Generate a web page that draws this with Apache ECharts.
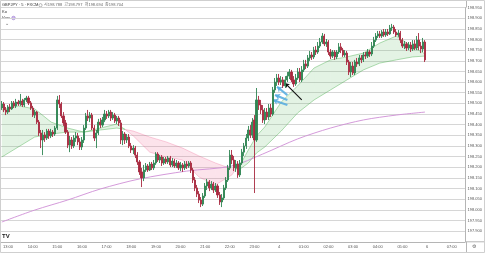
<!DOCTYPE html>
<html><head><meta charset="utf-8">
<script src="https://cdn.jsdelivr.net/npm/echarts@6/dist/echarts.min.js"></script>
<style>html,body{margin:0;padding:0;background:#fff}#c{width:485px;height:253px}</style>
</head><body><div id="c"></div>
<script>
// ---- data ----
const startTime = '12:45';
const slotCount = 226;
const tickTimes = ['13:00','14:00','15:00','16:00','17:00','18:00','19:00','20:00','21:00','22:00','23:00','00:00','01:00','02:00','03:00','04:00','05:00','06:00','07:00'];
const tickLabels = ['13:00','14:00','15:00','16:00','17:00','18:00','19:00','20:00','21:00','22:00','23:00','4','01:00','02:00','03:00','04:00','05:00','6','07:00'];
const priceMin = 197.85, priceMax = 198.95, priceStep = 0.05;
// [open, close, low, high]
const candles = [
[198.478,198.497,198.469,198.511],[198.497,198.469,198.459,198.506],[198.469,198.459,198.445,198.483],[198.459,198.483,198.450,198.492],
[198.483,198.474,198.459,198.497],[198.474,198.502,198.469,198.511],[198.502,198.488,198.478,198.511],[198.488,198.506,198.478,198.521],
[198.506,198.497,198.488,198.516],[198.497,198.511,198.488,198.544],[198.511,198.492,198.483,198.521],[198.492,198.516,198.483,198.525],
[198.516,198.525,198.506,198.535],[198.525,198.502,198.492,198.535],[198.502,198.478,198.469,198.511],[198.478,198.445,198.436,198.488],
[198.445,198.459,198.431,198.469],[198.459,198.412,198.403,198.464],[198.412,198.361,198.347,198.422],[198.361,198.328,198.290,198.375],
[198.328,198.351,198.257,198.375],[198.351,198.337,198.319,198.365],[198.337,198.370,198.328,198.380],[198.370,198.347,198.333,198.380],
[198.347,198.365,198.337,198.380],[198.365,198.356,198.342,198.375],[198.356,198.384,198.347,198.394],[198.384,198.516,198.375,198.535],
[198.516,198.497,198.478,198.539],[198.497,198.441,198.431,198.506],[198.441,198.408,198.394,198.459],[198.408,198.365,198.356,198.422],
[198.365,198.304,198.290,198.375],[198.304,198.328,198.271,198.347],[198.328,198.300,198.286,198.342],[198.300,198.337,198.290,198.351],
[198.337,198.347,198.319,198.365],[198.347,198.319,198.304,198.361],[198.319,198.295,198.281,198.337],[198.295,198.328,198.281,198.342],
[198.328,198.384,198.314,198.398],[198.384,198.441,198.375,198.455],[198.441,198.431,198.417,198.469],[198.431,198.445,198.412,198.459],
[198.445,198.384,198.375,198.455],[198.384,198.337,198.323,198.398],[198.337,198.361,198.290,198.375],[198.361,198.412,198.351,198.427],
[198.412,198.398,198.384,198.431],[198.398,198.422,198.389,198.436],[198.422,198.450,198.412,198.469],[198.450,198.441,198.427,198.464],
[198.441,198.459,198.431,198.469],[198.459,198.431,198.417,198.469],[198.431,198.445,198.422,198.459],[198.445,198.417,198.408,198.455],
[198.417,198.431,198.403,198.441],[198.431,198.408,198.394,198.441],[198.408,198.328,198.309,198.422],[198.328,198.356,198.304,198.370],
[198.356,198.328,198.309,198.365],[198.328,198.342,198.314,198.356],[198.342,198.300,198.290,198.356],[198.300,198.281,198.267,198.314],
[198.281,198.290,198.262,198.304],[198.290,198.257,198.243,198.300],[198.257,198.225,198.211,198.271],[198.225,198.178,198.164,198.234],
[198.178,198.150,198.107,198.197],[198.150,198.187,198.135,198.211],[198.187,198.206,198.178,198.220],[198.206,198.187,198.178,198.215],
[198.187,198.215,198.182,198.225],[198.215,198.197,198.187,198.225],[198.197,198.220,198.187,198.234],[198.220,198.262,198.211,198.271],
[198.262,198.234,198.225,198.271],[198.234,198.248,198.220,198.257],[198.248,198.220,198.206,198.257],[198.220,198.239,198.211,198.248],
[198.239,198.225,198.215,198.248],[198.225,198.243,198.215,198.253],[198.243,198.211,198.201,198.253],[198.211,198.229,198.201,198.243],
[198.229,198.206,198.197,198.239],[198.206,198.220,198.197,198.234],[198.220,198.197,198.187,198.229],[198.197,198.211,198.182,198.225],
[198.211,198.197,198.178,198.220],[198.197,198.215,198.187,198.229],[198.215,198.206,198.192,198.229],[198.206,198.220,198.197,198.229],
[198.220,198.187,198.173,198.229],[198.187,198.140,198.126,198.197],[198.140,198.103,198.088,198.154],[198.103,198.074,198.060,198.117],
[198.074,198.046,198.032,198.088],[198.046,198.027,198.013,198.060],[198.027,198.065,198.018,198.079],[198.065,198.112,198.056,198.126],
[198.112,198.131,198.093,198.145],[198.131,198.103,198.088,198.140],[198.103,198.121,198.093,198.135],[198.121,198.093,198.079,198.131],
[198.093,198.112,198.084,198.126],[198.112,198.070,198.056,198.121],[198.070,198.037,198.023,198.084],[198.037,198.056,198.013,198.074],
[198.056,198.103,198.046,198.117],[198.103,198.140,198.093,198.154],[198.140,198.197,198.131,198.211],[198.197,198.257,198.187,198.281],
[198.257,198.234,198.215,198.281],[198.234,198.197,198.182,198.253],[198.197,198.215,198.178,198.234],[198.215,198.164,198.150,198.229],
[198.164,198.220,198.154,198.234],[198.220,198.271,198.211,198.286],[198.271,198.300,198.253,198.314],[198.300,198.337,198.286,198.356],
[198.337,198.375,198.323,198.394],[198.375,198.351,198.337,198.398],[198.351,198.412,198.337,198.431],[198.422,198.328,198.079,198.445],
[198.328,198.516,198.319,198.572],[198.516,198.492,198.469,198.535],[198.492,198.469,198.450,198.516],[198.469,198.422,198.408,198.492],
[198.422,198.459,198.403,198.478],[198.459,198.436,198.422,198.478],[198.436,198.478,198.422,198.497],[198.478,198.450,198.436,198.497],
[198.450,198.563,198.441,198.577],[198.563,198.600,198.549,198.619],[198.600,198.619,198.582,198.638],[198.619,198.600,198.586,198.638],
[198.600,198.610,198.586,198.628],[198.610,198.582,198.572,198.624],[198.582,198.610,198.572,198.628],[198.610,198.628,198.600,198.647],
[198.628,198.647,198.614,198.661],[198.647,198.610,198.600,198.657],[198.610,198.591,198.577,198.628],[198.591,198.619,198.582,198.638],
[198.619,198.647,198.610,198.666],[198.647,198.610,198.600,198.666],[198.610,198.657,198.600,198.675],[198.657,198.685,198.647,198.704],
[198.685,198.675,198.661,198.704],[198.675,198.713,198.666,198.727],[198.713,198.727,198.699,198.746],[198.727,198.718,198.704,198.741],
[198.718,198.750,198.708,198.765],[198.750,198.741,198.727,198.769],[198.741,198.769,198.732,198.788],[198.769,198.788,198.760,198.807],
[198.788,198.816,198.779,198.830],[198.816,198.779,198.769,198.826],[198.779,198.788,198.765,198.802],[198.788,198.741,198.727,198.797],
[198.741,198.722,198.708,198.755],[198.722,198.741,198.713,198.750],[198.741,198.718,198.704,198.750],[198.718,198.741,198.708,198.750],
[198.741,198.765,198.732,198.783],[198.765,198.750,198.736,198.783],[198.750,198.727,198.718,198.760],[198.727,198.736,198.718,198.750],
[198.736,198.694,198.680,198.746],[198.694,198.647,198.633,198.704],[198.647,198.675,198.624,198.694],[198.675,198.643,198.633,198.694],
[198.643,198.694,198.633,198.704],[198.694,198.685,198.671,198.713],[198.685,198.713,198.675,198.727],[198.713,198.704,198.689,198.727],
[198.704,198.727,198.694,198.741],[198.727,198.722,198.708,198.741],[198.722,198.741,198.713,198.755],[198.741,198.732,198.718,198.750],
[198.732,198.769,198.722,198.788],[198.769,198.797,198.760,198.812],[198.797,198.816,198.788,198.830],[198.816,198.826,198.807,198.840],
[198.826,198.816,198.807,198.840],[198.816,198.835,198.807,198.844],[198.835,198.821,198.812,198.849],[198.821,198.835,198.812,198.849],
[198.835,198.826,198.816,198.849],[198.826,198.854,198.821,198.868],[198.854,198.858,198.840,198.873],[198.858,198.835,198.826,198.868],
[198.835,198.821,198.812,198.849],[198.821,198.830,198.812,198.844],[198.830,198.797,198.783,198.840],[198.797,198.769,198.760,198.807],
[198.769,198.779,198.755,198.793],[198.779,198.760,198.746,198.788],[198.760,198.774,198.750,198.788],[198.774,198.755,198.741,198.788],
[198.755,198.779,198.746,198.797],[198.779,198.760,198.750,198.797],[198.760,198.797,198.750,198.816],[198.797,198.769,198.750,198.830],
[198.769,198.755,198.736,198.788],[198.755,198.788,198.741,198.807],[198.788,198.704,198.694,198.797]
];
const emaIdx  = [0,8,16,24,32,40,48,56,64,72,80,88,96,104,112,116,120,124,128,136,144,152,160,168,176,184,192,200,206];
const fastEma = [198.469,198.488,198.474,198.412,198.384,198.365,198.384,198.403,198.347,198.271,198.248,198.234,198.154,198.117,198.164,198.211,198.281,198.347,198.389,198.506,198.582,198.666,198.704,198.718,198.736,198.783,198.816,198.765,198.732];
const slowEma = [198.248,198.295,198.342,198.356,198.365,198.365,198.375,198.384,198.370,198.342,198.319,198.290,198.253,198.220,198.192,198.192,198.220,198.267,198.295,198.370,198.455,198.516,198.563,198.610,198.657,198.689,198.704,198.718,198.722];
const ema200Idx = [0,16,32,48,67,90,112,127,144,160,176,192,206];
const ema200    = [197.943,197.999,198.046,198.098,198.145,198.182,198.206,198.262,198.333,198.384,198.422,198.445,198.459];
const blackArrow = [[146,198.516],[138,198.594]];
const blueArrows = [
  [[139,198.539],[134,198.578]],
  [[139,198.516],[133,198.539]],
  [[139,198.492],[132,198.516]]
];
const headerName = 'GBPJPY · 5 · FXCM';
const headerOHLC = '시198.788  고198.797  저198.694  종198.704';

// ---- build ----
const categories = [];
(function(){
  const [h0,m0] = startTime.split(':').map(Number);
  for (let k=0;k<slotCount;k++){
    const t = h0*60+m0+5*k;
    const hh = Math.floor(t/60)%24, mm = t%60;
    categories.push(String(hh).padStart(2,'0')+':'+String(mm).padStart(2,'0'));
  }
})();
const cloudData = [];
for (let k=0;k<emaIdx.length-1;k++){
  cloudData.push([emaIdx[k],fastEma[k],slowEma[k],emaIdx[k+1],fastEma[k+1],slowEma[k+1]]);
}
const lastClose = candles[candles.length-1][1];
const FONT = 'Liberation Sans, Arial, Noto Sans CJK KR, sans-serif';
const GFILL='rgba(102,187,106,0.18)', RFILL='rgba(240,98,146,0.18)';
const GLINE='rgba(76,175,80,0.55)', RLINE='rgba(236,64,122,0.3)';

function renderCloud(params, api){
  const x0=api.value(0), f0=api.value(1), s0=api.value(2);
  const x1=api.value(3), f1=api.value(4), s1=api.value(5);
  const P=(x,v)=>api.coord([x,v]);
  const d0=f0-s0, d1=f1-s1;
  const ch=[];
  const poly=(pts,c)=>ch.push({type:'polygon',shape:{points:pts},style:{fill:c}});
  const seg=(a,b,c)=>ch.push({type:'line',shape:{x1:a[0],y1:a[1],x2:b[0],y2:b[1]},style:{stroke:c,lineWidth:0.8}});
  if (d0*d1>=0){
    const up=(d0+d1)>=0;
    poly([P(x0,f0),P(x1,f1),P(x1,s1),P(x0,s0)], up?GFILL:RFILL);
    seg(P(x0,f0),P(x1,f1), up?GLINE:RLINE);
    seg(P(x0,s0),P(x1,s1), up?GLINE:RLINE);
  } else {
    const t=d0/(d0-d1);
    const xm=x0+t*(x1-x0), vm=f0+t*(f1-f0);
    poly([P(x0,f0),P(xm,vm),P(x0,s0)], d0>0?GFILL:RFILL);
    poly([P(xm,vm),P(x1,f1),P(x1,s1)], d1>0?GFILL:RFILL);
    seg(P(x0,f0),P(xm,vm), d0>0?GLINE:RLINE); seg(P(x0,s0),P(xm,vm), d0>0?GLINE:RLINE);
    seg(P(xm,vm),P(x1,f1), d1>0?GLINE:RLINE); seg(P(xm,vm),P(x1,s1), d1>0?GLINE:RLINE);
  }
  return {type:'group',children:ch};
}

const markData = [
  {yAxis:lastClose, lineStyle:{opacity:0},
   label:{show:true, position:'end', distance:0, formatter:p=>p.value.toFixed(3), color:'#fff',
          backgroundColor:'#43a560', padding:[1,2,1,2], fontSize:4, fontFamily:FONT}},
  [{coord:blackArrow[0], symbol:'none', lineStyle:{color:'#111',width:1.1,type:'solid',opacity:1}, label:{show:false}},
   {coord:blackArrow[1], symbol:'arrow', symbolSize:4}]
];
blueArrows.forEach(a=>markData.push([
  {coord:a[0], symbol:'none', lineStyle:{color:'#5aaee0',width:2.2,type:'solid',opacity:0.9}, label:{show:false}},
  {coord:a[1], symbol:'arrow', symbolSize:5}
]));

const chart = echarts.init(document.getElementById('c'), null, {renderer:'canvas'});
chart.setOption({
  animation:false,
  backgroundColor:'#fff',
  textStyle:{fontFamily:FONT},
  grid:{left:0,right:19,top:7.5,bottom:11.2,containLabel:false},
  xAxis:{type:'category', data:categories, boundaryGap:true,
    axisLine:{lineStyle:{color:'#b5b5b5',width:1}}, axisTick:{show:false}, splitLine:{show:false},
    axisLabel:{interval:(i,v)=>tickTimes.includes(v), formatter:v=>tickLabels[tickTimes.indexOf(v)],
      fontSize:4, color:'#555', margin:3, fontFamily:FONT}},
  yAxis:{type:'value', position:'right', min:priceMin, max:priceMax, interval:priceStep,
    axisLine:{show:true,lineStyle:{color:'#b5b5b5',width:1}}, axisTick:{show:false},
    splitLine:{lineStyle:{color:'#d6d6d6',width:1}},
    axisLabel:{fontSize:4, color:'#555', margin:2.5, showMinLabel:false, formatter:v=>v.toFixed(3), fontFamily:FONT}},
  series:[
    {type:'custom', renderItem:renderCloud, data:cloudData, encode:{x:[0,3],y:[1,2,4,5]}, z:1, silent:true},
    {type:'line', data:ema200Idx.map((x,k)=>[x,ema200[k]]), showSymbol:false, smooth:0.3,
     lineStyle:{color:'#cf8fd6',width:0.9}, z:2, silent:true},
    {type:'candlestick', data:candles, barWidth:1.6, z:5, silent:true,
     itemStyle:{color:'#2f8452', color0:'#a8293f', borderColor:'#2f8452', borderColor0:'#a8293f', borderWidth:0.9},
     markLine:{silent:true, symbol:['none','none'], animation:false, data:markData}}
  ],
  graphic:[
    {type:'rect', shape:{x:0.5,y:0.5,width:484,height:252}, style:{fill:'none',stroke:'#cfcfcf',lineWidth:1}, silent:true, z:100},
    {type:'line', shape:{x1:466.5,y1:0,x2:466.5,y2:7.5}, style:{stroke:'#b5b5b5',lineWidth:1}},
    {type:'line', shape:{x1:466.5,y1:241.8,x2:466.5,y2:253}, style:{stroke:'#b5b5b5',lineWidth:1}},
    {type:'line', shape:{x1:466,y1:241.8,x2:485,y2:241.8}, style:{stroke:'#b5b5b5',lineWidth:1}},
    {type:'text', left:2, top:3, style:{text:headerName, fontSize:4, fill:'#333', fontFamily:FONT}},
    {type:'circle', shape:{cx:40.5,cy:5.2,r:1.6}, style:{fill:'none',stroke:'#888',lineWidth:0.6}},
    {type:'text', left:44, top:3, style:{text:headerOHLC, fontSize:4, fill:'#666', fontFamily:FONT}},
    {type:'text', left:2, top:10, style:{text:'Ko', fontSize:4, fill:'#333', fontFamily:FONT}},
    {type:'text', left:2, top:16, style:{text:'Vwo', fontSize:4, fill:'#333', fontFamily:FONT}},
    {type:'circle', shape:{cx:13.5,cy:18,r:1.8}, style:{fill:'#cdb6ee',stroke:'#8e6cc9',lineWidth:0.5}},
    {type:'text', left:5, top:21, style:{text:'⌄', fontSize:5, fill:'#555', fontFamily:'DejaVu Sans'}},
    {type:'text', left:2, top:233, style:{text:'TV', fontSize:6, fontWeight:'bold', fill:'#222', fontFamily:FONT}},
    {type:'text', left:472, top:244, style:{text:'⚙', fontSize:5, fill:'#666', fontFamily:'DejaVu Sans'}}
  ]
});
</script></body></html>
